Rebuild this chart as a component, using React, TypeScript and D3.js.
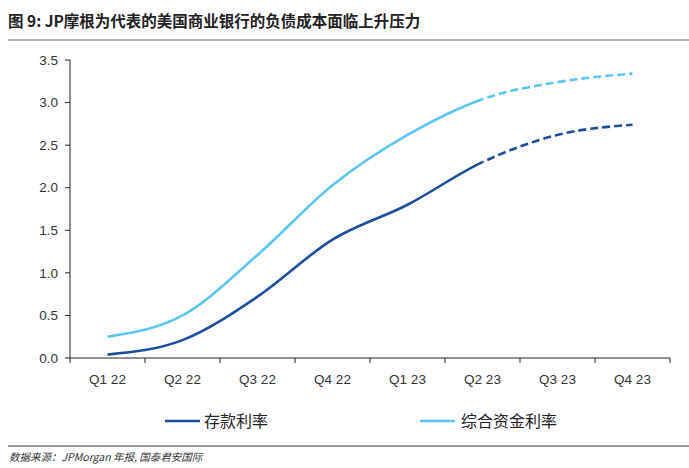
import React from "react";
import * as d3 from "d3";

const categories = ["Q1 22", "Q2 22", "Q3 22", "Q4 22", "Q1 23", "Q2 23", "Q3 23", "Q4 23"];
const depositRate = [0.04, 0.21, 0.72, 1.39, 1.8, 2.3, 2.62, 2.74];
const fundingRate = [0.25, 0.5, 1.21, 2.03, 2.62, 3.04, 3.24, 3.34];
const yTicks = [0, 0.5, 1.0, 1.5, 2.0, 2.5, 3.0, 3.5];
const actualCount = 6; // Q1 22 .. Q2 23 solid, rest dashed
const seriesNames = ["存款利率", "综合资金利率"];
const title = "图 9:  JP摩根为代表的美国商业银行的负债成本面临上升压力";
const source = "数据来源：JPMorgan 年报, 国泰君安国际";

const W = 689, H = 468;
const left = 70, right = 670, top = 60, bottom = 358;
const DARK = "#1B4F9C";
const LIGHT = "#5CC6F2";

export default function App() {
  const x = d3.scaleBand<string>().domain(categories).range([left, right]);
  const y = d3.scaleLinear().domain([0, 3.5]).range([bottom, top]);
  const cx = (i: number) => (x(categories[i]) as number) + x.bandwidth() / 2;
  const line = d3
    .line<[number, number]>()
    .x((d) => cx(d[0]))
    .y((d) => y(d[1]))
    .curve(d3.curveMonotoneX);
  const full = (vals: number[]) => vals.map((v, i) => [i, v] as [number, number]);
  const mkPaths = (vals: number[]) => {
    const pts = full(vals);
    const d = line(pts) as string;
    return d;
  };
  // solid part and dashed part: clip approach by drawing full curve twice with clipPaths
  const splitX = cx(actualCount - 1);
  const series = [
    { vals: depositRate, color: DARK },
    { vals: fundingRate, color: LIGHT },
  ];
  const xTickPositions = [...categories.map((c) => x(c) as number), right];
  const font = "'Liberation Sans', Arial, sans-serif";
  const cjk = "'Noto Sans CJK SC', sans-serif";
  return (
    <svg width={W} height={H} style={{ position: "absolute", left: 0, top: 0, background: "#fff" }}>
      <defs>
        <clipPath id="solidClip">
          <rect x={0} y={0} width={splitX} height={H} />
        </clipPath>
        <clipPath id="dashClip">
          <rect x={splitX} y={0} width={W - splitX} height={H} />
        </clipPath>
      </defs>
      <text x={8} y={27} fontFamily={cjk} fontWeight="bold" fontSize={15.5} fill="#222">
        {title}
      </text>
      <line x1={8} x2={689} y1={40} y2={40} stroke="#9a9a9a" strokeWidth={1.5} />

      {/* y axis */}
      <line x1={left} x2={left} y1={top} y2={bottom} stroke="#222" strokeWidth={1} />
      {yTicks.map((t) => (
        <g key={t}>
          <line x1={left - 5} x2={left} y1={y(t)} y2={y(t)} stroke="#222" />
          <text x={left - 12} y={y(t)} dy="0.35em" textAnchor="end" fontFamily={font} fontSize={13.5} fill="#333">
            {t.toFixed(1)}
          </text>
        </g>
      ))}
      {/* x axis */}
      <line x1={left} x2={right} y1={bottom} y2={bottom} stroke="#222" strokeWidth={1} />
      {xTickPositions.map((p, i) => (
        <line key={i} x1={p} x2={p} y1={bottom} y2={bottom + 5} stroke="#222" />
      ))}
      {categories.map((c, i) => (
        <text key={c} x={cx(i)} y={384} textAnchor="middle" fontFamily={font} fontSize={13.5} fill="#333">
          {c}
        </text>
      ))}

      {series.map((s, i) => (
        <g key={i}>
          <path d={mkPaths(s.vals)} fill="none" stroke={s.color} strokeWidth={2.6} clipPath="url(#solidClip)" />
          <path
            d={mkPaths(s.vals)}
            fill="none"
            stroke={s.color}
            strokeWidth={2.6}
            strokeDasharray="8,4"
            clipPath="url(#dashClip)"
          />
        </g>
      ))}

      {/* legend */}
      <line x1={165} x2={200} y1={421} y2={421} stroke={DARK} strokeWidth={2.6} />
      <text x={204} y={427} fontFamily={cjk} fontSize={16} fill="#222">
        {seriesNames[0]}
      </text>
      <line x1={420} x2={455} y1={421} y2={421} stroke={LIGHT} strokeWidth={2.6} />
      <text x={461} y={427} fontFamily={cjk} fontSize={16} fill="#222">
        {seriesNames[1]}
      </text>

      <line x1={8} x2={689} y1={446} y2={446} stroke="#9a9a9a" strokeWidth={2} />
      <text x={9} y={461} fontFamily={cjk} fontStyle="italic" fontSize={10.5} fill="#333">
        {source}
      </text>
    </svg>
  );
}
